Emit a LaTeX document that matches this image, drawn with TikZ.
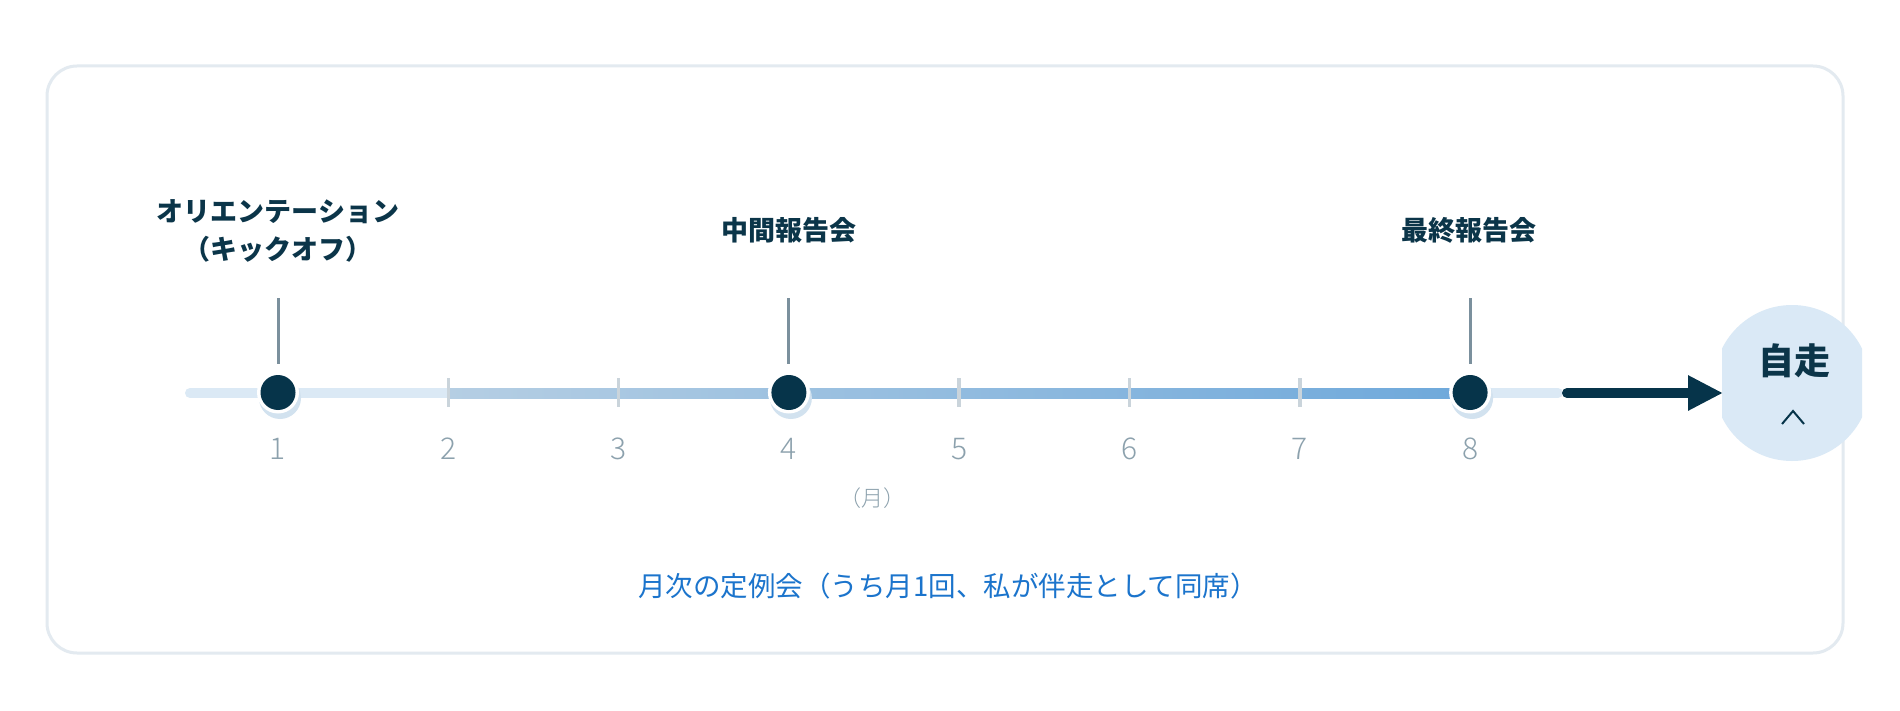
\documentclass[tikz,border=0pt]{standalone}
\usepackage{fontspec}
\setmainfont{Noto Sans CJK JP}
\newfontfamily\lightjp{Noto Sans CJK JP Light}
\usetikzlibrary{arrows.meta}
\definecolor{navy}{HTML}{06344A}
\definecolor{labelcol}{HTML}{0B3549}
\definecolor{bordercol}{HTML}{E3EAF0}
\definecolor{basecol}{HTML}{DBE9F5}
\definecolor{tickcol}{HTML}{CAD4DB}
\definecolor{stemcol}{HTML}{7B909D}
\definecolor{numcol}{HTML}{8CA1AD}
\definecolor{notecol}{HTML}{1B74CC}
\definecolor{circcol}{HTML}{DAE9F6}
\definecolor{gradA}{HTML}{B5CEE3}
\definecolor{gradB}{HTML}{6FA9DB}
\definecolor{shadowcol}{HTML}{D2E2EF}
\tikzset{
  frame/.style={draw=bordercol, line width=3pt, rounded corners=30pt},
  baseline line/.style={draw=basecol, line width=10pt, line cap=round},
  tickmark/.style={draw=tickcol, line width=3.5pt},
  stemline/.style={draw=stemcol, line width=3pt},
  mslabel/.style={inner sep=0pt, align=center, text=labelcol, font=\fontsize{27}{38}\selectfont\bfseries},
  monthnum/.style={inner sep=0pt, text=numcol, font=\lightjp\fontsize{30}{34}\selectfont},
  unitlabel/.style={inner sep=0pt, text=numcol, font=\lightjp\fontsize{22}{26}\selectfont},
  notelabel/.style={inner sep=0pt, text=notecol, font=\fontsize{27.5}{32}\selectfont},
  dotnode/.style={circle, fill=navy, minimum size=35pt, inner sep=0pt},
  dotring/.style={circle, fill=white, minimum size=42pt, inner sep=0pt},
  dotshadow/.style={circle, fill=shadowcol, minimum size=42pt, inner sep=0pt},
  goalarrow/.style={draw=navy, line width=10pt, line cap=round, -{Triangle[length=35pt,width=33pt]}},
  goaltext/.style={inner sep=0pt, text=labelcol, font=\fontsize{36}{40}\selectfont\bfseries},
}
\begin{document}
\begin{tikzpicture}[x=1pt,y=-1pt]
\useasboundingbox (0,0) rectangle (1900,711);
\fill[white] (0,0) rectangle (1900,711);
% frame
\draw[frame] (47,66) rectangle (1843,653);
% timeline base
\coordinate (tlstart) at (190,393);
\coordinate (tlend) at (1558,393);
\draw[baseline line] (tlstart) -- (tlend);
% gradient band
\shade[left color=gradA, right color=gradB] (448,388) rectangle (1458,398);
% ticks
\foreach \m in {2,3,5,6,7} {
  \coordinate (t\m a) at ({278+(\m-1)*170.3},378);
  \coordinate (t\m b) at ({278+(\m-1)*170.3},407);
  \draw[tickmark] (t\m a) -- (t\m b);
}
% month numbers
\foreach \m in {1,...,8} {
  \node[monthnum] (num\m) at ({278+(\m-1)*170.3},449) {\m};
}
\node[unitlabel] (unit) at (872,498) {（月）};
% milestones
\foreach \m/\nm in {1/a,4/b,8/c} {
  \coordinate (s\nm top) at ({278+(\m-1)*170.3},298);
  \coordinate (s\nm bot) at ({278+(\m-1)*170.3},364);
  \draw[stemline] (s\nm top) -- (s\nm bot);
  \node[dotshadow] (sh\nm) at ({278+(\m-1)*170.3+2},398) {};
  \node[dotring] (ring\nm) at ({278+(\m-1)*170.3},392.5) {};
  \node[dotnode] (dot\nm) at ({278+(\m-1)*170.3},392.5) {};
}
\node[mslabel] (lab1) at (278,231) {オリエンテーション\\（キックオフ）};
\node[mslabel] (lab4) at (789,230) {中間報告会};
\node[mslabel] (lab8) at (1469,230) {最終報告会};
% goal circle
\begin{scope}
  \clip (1722,290) rectangle (1862,480);
  \fill[circcol] (1792,383) circle (78);
\end{scope}
\node[goaltext] (goal) at (1794,361) {自走};
\coordinate (chevl) at (1782,424);
\coordinate (cheva) at (1793,411);
\coordinate (chevr) at (1804,424);
\draw[navy, line width=2pt] (chevl) -- (cheva) -- (chevr);
% arrow
\coordinate (arrstart) at (1567,393);
\coordinate (arrend) at (1723,393);
\draw[goalarrow] (arrstart) -- (arrend);
% note
\node[notelabel] (note) at (948,586) {月次の定例会（うち月1回、私が伴走として同席）};
\end{tikzpicture}
\end{document}
